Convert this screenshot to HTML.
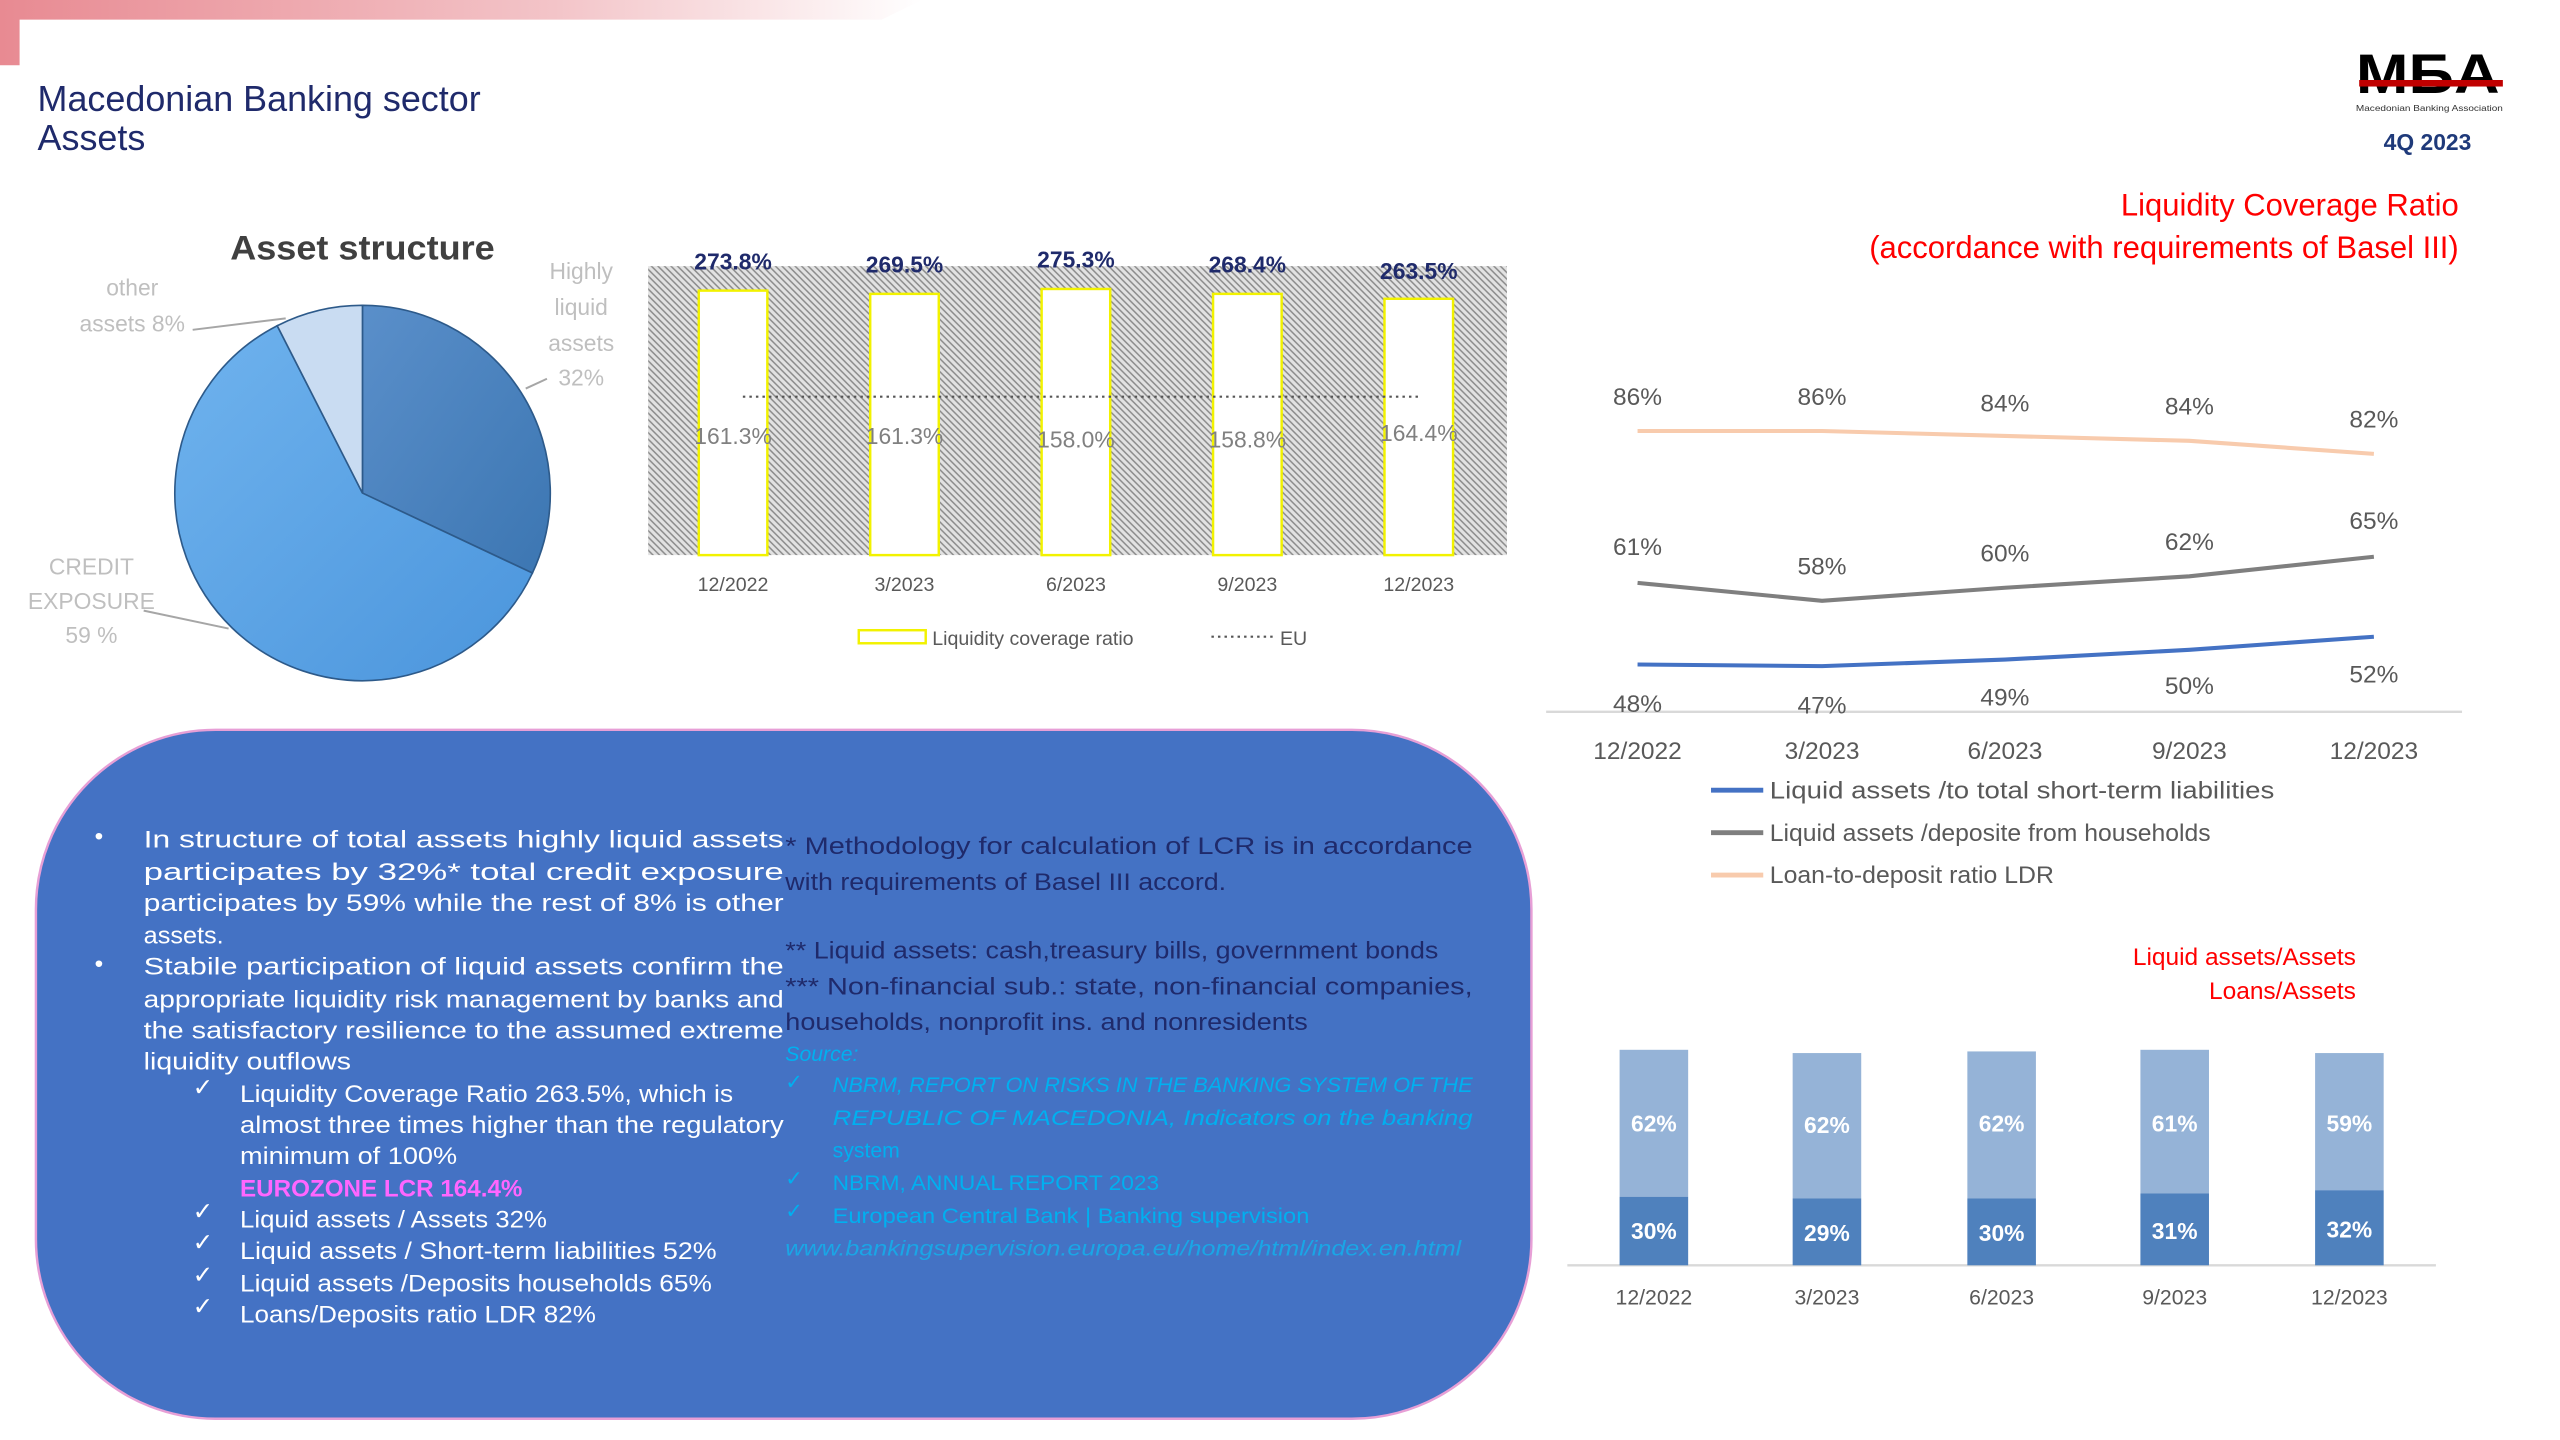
<!DOCTYPE html>
<html><head><meta charset="utf-8"><style>
html,body{margin:0;padding:0;background:#fff;}
svg{display:block;}
text{font-family:"Liberation Sans",sans-serif;}
</style></head><body>
<svg width="2560" height="1440" viewBox="0 0 1568 882" preserveAspectRatio="none" xmlns="http://www.w3.org/2000/svg">
<defs>
<linearGradient id="topg" x1="0" x2="1" y1="0" y2="0">
<stop offset="0" stop-color="#e88a92"/><stop offset="0.6" stop-color="#f3c4c8"/><stop offset="1" stop-color="#ffffff"/></linearGradient>
<pattern id="hatch" width="4" height="4" patternUnits="userSpaceOnUse">
<rect width="4" height="4" fill="#e2e2e2"/><path d="M-1,-1 L5,5 M-1,3 L1,5 M3,-1 L5,1" stroke="#8a8a8a" stroke-width="0.9"/></pattern>
<linearGradient id="pd" x1="0" x2="1" y1="0" y2="1"><stop offset="0" stop-color="#5a8fca"/><stop offset="1" stop-color="#3c76b2"/></linearGradient>
<linearGradient id="pc" x1="0" x2="1" y1="0" y2="1"><stop offset="0" stop-color="#6fb3ee"/><stop offset="1" stop-color="#4b95dc"/></linearGradient>
</defs>
<polygon points="0,0 565,0 540,12 12,12 12,40 0,40" fill="url(#topg)"/>
<text x="23" y="68" font-family="Liberation Serif,serif" font-size="22" fill="#1f2a6b">Macedonian Banking sector</text>
<text x="23" y="92" font-family="Liberation Serif,serif" font-size="22" fill="#1f2a6b">Assets</text>
<text x="1443" y="57" font-size="34" font-weight="bold" fill="#000" textLength="88" lengthAdjust="spacingAndGlyphs">MБA</text>
<rect x="1445" y="49" width="88" height="4" fill="#c00000"/>
<text x="1443" y="68" font-size="5" fill="#333" textLength="90" lengthAdjust="spacingAndGlyphs">Macedonian Banking Association</text>
<text x="1460" y="92" font-size="14" font-weight="bold" fill="#1f3a7a">4Q 2023</text>
<text x="141" y="159" font-size="21" font-weight="bold" fill="#404040" textLength="162" lengthAdjust="spacingAndGlyphs">Asset structure</text>
<path d="M222,302 L222,187 A115,115 0 0 1 326.1,351 Z" fill="url(#pd)" stroke="#2d5a8a" stroke-width="1"/>
<path d="M222,302 L326.1,351 A115,115 0 1 1 169.8,199.5 Z" fill="url(#pc)" stroke="#2d5a8a" stroke-width="1"/>
<path d="M222,302 L169.8,199.5 A115,115 0 0 1 222,187 Z" fill="#c9dcf2" stroke="#2d5a8a" stroke-width="1"/>
<g fill="#bfbfbf" font-size="14" text-anchor="middle">
<text x="81" y="181">other</text><text x="81" y="203">assets 8%</text>
<text x="356" y="171">Highly</text><text x="356" y="193">liquid</text><text x="356" y="215">assets</text><text x="356" y="236">32%</text>
<text x="56" y="352">CREDIT</text><text x="56" y="373">EXPOSURE</text><text x="56" y="394">59 %</text>
</g>
<g stroke="#a6a6a6" stroke-width="1.2" fill="none">
<polyline points="118,202 175,195"/><polyline points="322,238 335,232"/><polyline points="88,374 140,385"/>
</g>
<rect x="397" y="163" width="526" height="177" fill="url(#hatch)"/>
<g fill="#fff" stroke="#f2f200" stroke-width="1.5">
<rect x="428" y="178" width="42" height="162"/><rect x="533" y="180" width="42" height="160"/>
<rect x="638" y="177" width="42" height="163"/><rect x="743" y="180" width="42" height="160"/>
<rect x="848" y="183" width="42" height="157"/></g>
<line x1="455" y1="243" x2="870" y2="243" stroke="#555" stroke-width="1.3" stroke-dasharray="1.5,2.5"/>
<g fill="#1f2a6b" font-size="14" font-weight="bold" text-anchor="middle">
<text x="449" y="165">273.8%</text><text x="554" y="167">269.5%</text><text x="659" y="164">275.3%</text><text x="764" y="167">268.4%</text><text x="869" y="171">263.5%</text></g>
<g fill="#808080" font-size="14" text-anchor="middle">
<text x="449" y="272">161.3%</text><text x="554" y="272">161.3%</text><text x="659" y="274">158.0%</text><text x="764" y="274">158.8%</text><text x="869" y="270">164.4%</text></g>
<g fill="#595959" font-size="12" text-anchor="middle">
<text x="449" y="362">12/2022</text><text x="554" y="362">3/2023</text><text x="659" y="362">6/2023</text><text x="764" y="362">9/2023</text><text x="869" y="362">12/2023</text></g>
<rect x="526" y="386" width="41" height="8" fill="#fff" stroke="#f2f200" stroke-width="1.5"/>
<text x="571" y="395" font-size="12" fill="#595959">Liquidity coverage ratio</text>
<line x1="742" y1="390" x2="780" y2="390" stroke="#555" stroke-width="1.3" stroke-dasharray="1.5,2.5"/>
<text x="784" y="395" font-size="12" fill="#595959">EU</text>
<g fill="#ff0000" font-size="19" text-anchor="end">
<text x="1506" y="132">Liquidity Coverage Ratio</text>
<text x="1506" y="158">(accordance with requirements of Basel III)</text></g>
<line x1="947" y1="436" x2="1508" y2="436" stroke="#d9d9d9" stroke-width="1.5"/>
<polyline points="1003,264 1116,264 1228,267 1341,270 1454,278" fill="none" stroke="#f8cbad" stroke-width="2.5"/>
<polyline points="1003,357 1116,368 1228,360 1341,353 1454,341" fill="none" stroke="#7f7f7f" stroke-width="2.5"/>
<polyline points="1003,407 1116,408 1228,404 1341,398 1454,390" fill="none" stroke="#4472c4" stroke-width="2.5"/>
<g fill="#595959" font-size="15" text-anchor="middle">
<text x="1003" y="248">86%</text><text x="1116" y="248">86%</text><text x="1228" y="252">84%</text><text x="1341" y="254">84%</text><text x="1454" y="262">82%</text>
<text x="1003" y="340">61%</text><text x="1116" y="352">58%</text><text x="1228" y="344">60%</text><text x="1341" y="337">62%</text><text x="1454" y="324">65%</text>
<text x="1003" y="436">48%</text><text x="1116" y="437">47%</text><text x="1228" y="432">49%</text><text x="1341" y="425">50%</text><text x="1454" y="418">52%</text>
<text x="1003" y="465">12/2022</text><text x="1116" y="465">3/2023</text><text x="1228" y="465">6/2023</text><text x="1341" y="465">9/2023</text><text x="1454" y="465">12/2023</text></g>
<line x1="1048" y1="484" x2="1080" y2="484" stroke="#4472c4" stroke-width="3"/>
<line x1="1048" y1="510" x2="1080" y2="510" stroke="#7f7f7f" stroke-width="3"/>
<line x1="1048" y1="536" x2="1080" y2="536" stroke="#f8cbad" stroke-width="3"/>
<g fill="#595959" font-size="15">
<text x="1084" y="489" textLength="309" lengthAdjust="spacingAndGlyphs">Liquid assets /to total short-term liabilities</text>
<text x="1084" y="515" textLength="270" lengthAdjust="spacingAndGlyphs">Liquid assets /deposite from households</text>
<text x="1084" y="541" textLength="174" lengthAdjust="spacingAndGlyphs">Loan-to-deposit ratio LDR</text></g>
<g fill="#ff0000" font-size="15" text-anchor="end">
<text x="1443" y="591">Liquid assets/Assets</text><text x="1443" y="612">Loans/Assets</text></g>
<line x1="960" y1="775" x2="1492" y2="775" stroke="#d9d9d9" stroke-width="1.5"/>
<g fill="#95b3d7">
<rect x="992" y="643" width="42" height="90"/><rect x="1098" y="645" width="42" height="89"/>
<rect x="1205" y="644" width="42" height="90"/><rect x="1311" y="643" width="42" height="88"/><rect x="1418" y="645" width="42" height="84"/></g>
<g fill="#4f81bd">
<rect x="992" y="733" width="42" height="42"/><rect x="1098" y="734" width="42" height="41"/>
<rect x="1205" y="734" width="42" height="41"/><rect x="1311" y="731" width="42" height="44"/><rect x="1418" y="729" width="42" height="46"/></g>
<g fill="#fff" font-size="14" font-weight="bold" text-anchor="middle">
<text x="1013" y="693">62%</text><text x="1119" y="694">62%</text><text x="1226" y="693">62%</text><text x="1332" y="693">61%</text><text x="1439" y="693">59%</text>
<text x="1013" y="759">30%</text><text x="1119" y="760">29%</text><text x="1226" y="760">30%</text><text x="1332" y="759">31%</text><text x="1439" y="758">32%</text></g>
<g fill="#595959" font-size="13" text-anchor="middle">
<text x="1013" y="799">12/2022</text><text x="1119" y="799">3/2023</text><text x="1226" y="799">6/2023</text><text x="1332" y="799">9/2023</text><text x="1439" y="799">12/2023</text></g>
<rect x="22" y="447" width="916" height="422" rx="110" ry="110" fill="#4472c4" stroke="#e79fd6" stroke-width="1.5"/>
<g fill="#fff" font-size="15">
<text x="58" y="517">•</text><text x="58" y="595">•</text>
<text x="88" y="519" textLength="392" lengthAdjust="spacingAndGlyphs">In structure of total assets highly liquid assets</text>
<text x="88" y="539" textLength="392" lengthAdjust="spacingAndGlyphs">participates by 32%* total credit exposure</text>
<text x="88" y="558" textLength="392" lengthAdjust="spacingAndGlyphs">participates by 59% while the rest of 8% is other</text>
<text x="88" y="578" textLength="49" lengthAdjust="spacingAndGlyphs">assets.</text>
<text x="88" y="597" textLength="392" lengthAdjust="spacingAndGlyphs">Stabile participation of liquid assets confirm the</text>
<text x="88" y="617" textLength="392" lengthAdjust="spacingAndGlyphs">appropriate liquidity risk management by banks and</text>
<text x="88" y="636" textLength="392" lengthAdjust="spacingAndGlyphs">the satisfactory resilience to the assumed extreme</text>
<text x="88" y="655" textLength="127" lengthAdjust="spacingAndGlyphs">liquidity outflows</text>
<text x="118" y="671">✓</text><text x="118" y="747">✓</text><text x="118" y="766">✓</text><text x="118" y="786">✓</text><text x="118" y="805">✓</text>
<text x="147" y="675" textLength="302" lengthAdjust="spacingAndGlyphs">Liquidity Coverage Ratio 263.5%, which is</text>
<text x="147" y="694" textLength="333" lengthAdjust="spacingAndGlyphs">almost three times higher than the regulatory</text>
<text x="147" y="713" textLength="133" lengthAdjust="spacingAndGlyphs">minimum of 100%</text>
<text x="147" y="752" textLength="188" lengthAdjust="spacingAndGlyphs">Liquid assets / Assets 32%</text>
<text x="147" y="771" textLength="292" lengthAdjust="spacingAndGlyphs">Liquid assets / Short-term liabilities 52%</text>
<text x="147" y="791" textLength="289" lengthAdjust="spacingAndGlyphs">Liquid assets /Deposits households 65%</text>
<text x="147" y="810" textLength="218" lengthAdjust="spacingAndGlyphs">Loans/Deposits ratio LDR 82%</text>
</g>
<text x="147" y="733" font-size="15" font-weight="bold" fill="#ff66ff" textLength="173" lengthAdjust="spacingAndGlyphs">EUROZONE LCR 164.4%</text>
<g fill="#1f2a6b" font-size="15">
<text x="481" y="523" textLength="421" lengthAdjust="spacingAndGlyphs">* Methodology for calculation of LCR is in accordance</text>
<text x="481" y="545" textLength="270" lengthAdjust="spacingAndGlyphs">with requirements of Basel III accord.</text>
<text x="481" y="587" textLength="400" lengthAdjust="spacingAndGlyphs">** Liquid assets: cash,treasury bills, government bonds</text>
<text x="481" y="609" textLength="421" lengthAdjust="spacingAndGlyphs">***  Non-financial sub.: state, non-financial companies,</text>
<text x="481" y="631" textLength="320" lengthAdjust="spacingAndGlyphs">households, nonprofit ins. and nonresidents</text></g>
<g fill="#00b0f0" font-size="13">
<text x="481" y="650" font-style="italic">Source:</text>
<text x="481" y="667">✓</text><text x="481" y="726">✓</text><text x="481" y="746">✓</text>
<text x="510" y="669" font-style="italic" textLength="392" lengthAdjust="spacingAndGlyphs">NBRM, REPORT ON RISKS IN THE BANKING SYSTEM OF THE</text>
<text x="510" y="689" font-style="italic" textLength="392" lengthAdjust="spacingAndGlyphs">REPUBLIC OF MACEDONIA, Indicators on the banking</text>
<text x="510" y="709">system</text>
<text x="510" y="729" textLength="200" lengthAdjust="spacingAndGlyphs">NBRM, ANNUAL REPORT 2023</text>
<text x="510" y="749" textLength="292" lengthAdjust="spacingAndGlyphs">European Central Bank | Banking supervision</text>
<text x="481" y="769" font-style="italic" fill="#1aa6e6" textLength="414" lengthAdjust="spacingAndGlyphs">www.bankingsupervision.europa.eu/home/html/index.en.html</text></g>
</svg>
</body></html>
